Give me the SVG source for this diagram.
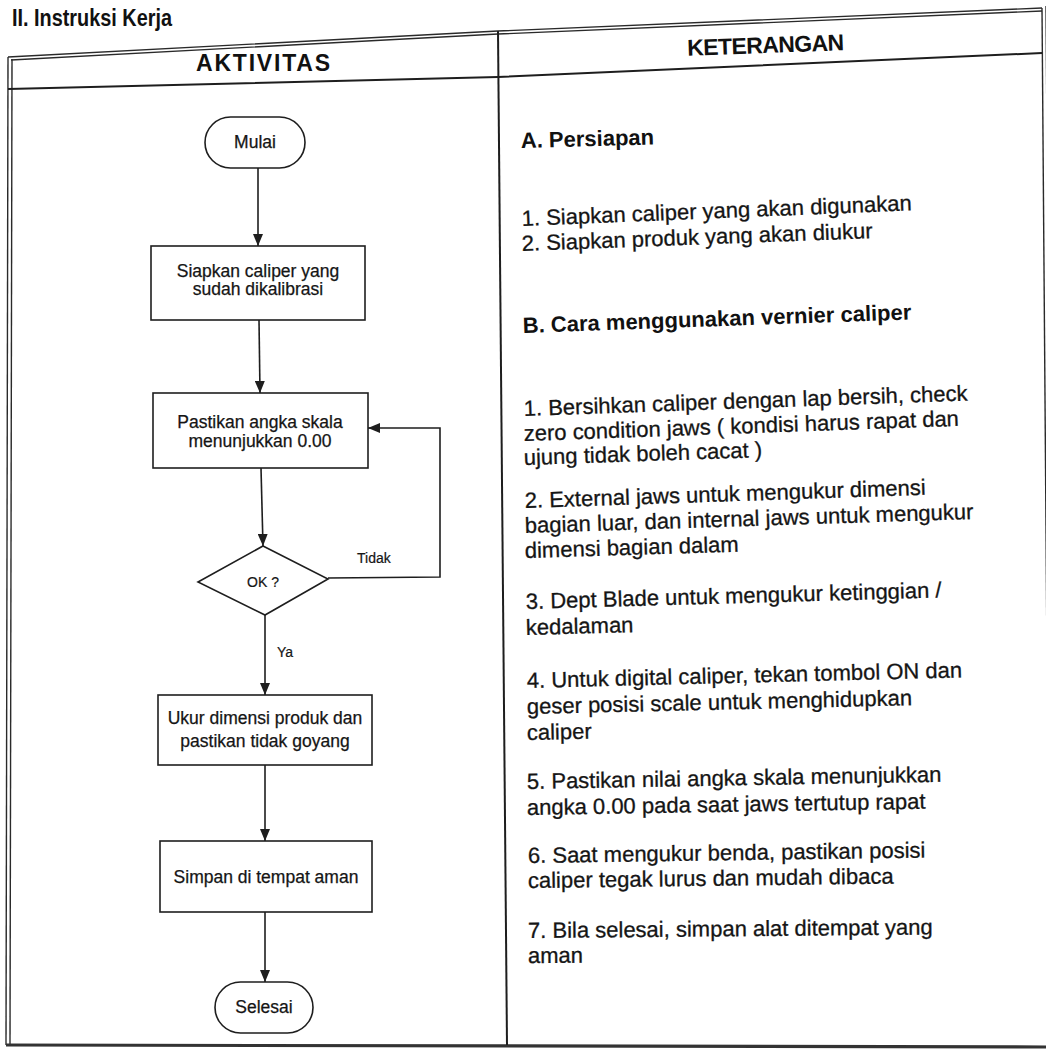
<svg xmlns="http://www.w3.org/2000/svg" width="1046" height="1052" viewBox="0 0 1046 1052">
  <defs>
    <style>
      .frame { fill: none; stroke: #2a2a2a; stroke-width: 1.4; }
      .rule { fill: none; stroke: #1e1e1e; stroke-width: 2; }
      .node { fill: #ffffff; stroke: #1e1e1e; stroke-width: 1.6; }
      .edge { fill: none; stroke: #1e1e1e; stroke-width: 1.6; marker-end: url(#arrow); }
      .label { font-family: "Liberation Sans", Arial, sans-serif; font-size: 17.5px; fill: #151515; stroke: #151515; stroke-width: 0.25; text-anchor: middle; }
      .small { font-family: "Liberation Sans", Arial, sans-serif; font-size: 14px; fill: #151515; stroke: #151515; stroke-width: 0.2; }
      .head { font-family: "Liberation Sans", Arial, sans-serif; font-size: 23px; font-weight: bold; fill: #111111; text-anchor: middle; }
      .title { font-family: "Liberation Sans", Arial, sans-serif; font-size: 23px; font-weight: bold; fill: #111111; }
      .note { font-family: "Liberation Sans", Arial, sans-serif; font-size: 22px; fill: #151515; stroke: #151515; stroke-width: 0.3; }
      .noteb { font-family: "Liberation Sans", Arial, sans-serif; font-size: 22px; font-weight: bold; fill: #111111; }
    </style>
    <marker id="arrow" viewBox="0 0 12 10" markerWidth="12" markerHeight="10" refX="12" refY="5" orient="auto" markerUnits="userSpaceOnUse">
      <path d="M0,0 L12,5 L0,10 z" fill="#1e1e1e"/>
    </marker>
  </defs>

  <rect x="0" y="0" width="1046" height="1052" fill="#ffffff"/>

  <!-- section title -->
  <text class="title" x="12" y="26" textLength="160" lengthAdjust="spacingAndGlyphs">II. Instruksi Kerja</text>

  <!-- table frame (double outer border) -->
  <g id="table">
    <polyline class="frame" points="8,57 498,31 1042,8"/>
    <polyline class="frame" points="11,60 498,34 1042,11"/>
    <line class="frame" x1="8" y1="57" x2="6" y2="1045"/>
    <line class="frame" x1="12" y1="59" x2="10" y2="1045"/>
    <line class="frame" x1="1042" y1="8" x2="1050" y2="1047"/>
    <line class="frame" x1="1046" y1="6" x2="1054" y2="1047"/>
    <line x1="6" y1="1045" x2="1046" y2="1047" stroke="#333333" stroke-width="3.2"/>
    <polyline class="rule" points="8,89 498,77 1042,53"/>
    <line class="rule" x1="498" y1="31" x2="507" y2="1045"/>
    <text class="head" x="263" y="71" textLength="134" lengthAdjust="spacing">AKTIVITAS</text>
    <text class="head" x="766" y="53" textLength="157" lengthAdjust="spacing" transform="rotate(-2 766 53)">KETERANGAN</text>
  </g>

  <!-- connectors -->
  <g id="connectors">
    <line class="edge" x1="258" y1="168" x2="258" y2="246"/>
    <line class="edge" x1="259" y1="320" x2="260" y2="393"/>
    <line class="edge" x1="261" y1="468" x2="263" y2="546"/>
    <polyline class="edge" points="328,578 440,577 440,428 368,428"/>
    <line class="edge" x1="265" y1="615" x2="265" y2="695"/>
    <line class="edge" x1="265" y1="765" x2="265" y2="841"/>
    <line class="edge" x1="265" y1="912" x2="265" y2="982"/>
    <text class="small" x="357" y="563">Tidak</text>
    <text class="small" x="277" y="657">Ya</text>
  </g>

  <!-- flowchart nodes -->
  <g id="mulai">
    <rect class="node" x="205" y="117" width="100" height="51" rx="25.5"/>
    <text class="label" x="255" y="148">Mulai</text>
  </g>
  <g id="siapkan">
    <rect class="node" x="151" y="246" width="214" height="74"/>
    <text class="label" x="258" y="277">Siapkan caliper yang</text>
    <text class="label" x="258" y="295">sudah dikalibrasi</text>
  </g>
  <g id="pastikan">
    <rect class="node" x="153" y="393" width="215" height="75"/>
    <text class="label" x="260" y="428">Pastikan angka skala</text>
    <text class="label" x="260" y="447">menunjukkan 0.00</text>
  </g>
  <g id="ok">
    <polygon class="node" points="263,546 328,579 265,615 198,582"/>
    <text class="small" x="263" y="587" text-anchor="middle">OK ?</text>
  </g>
  <g id="ukur">
    <rect class="node" x="158" y="695" width="214" height="70"/>
    <text class="label" x="265" y="724">Ukur dimensi produk dan</text>
    <text class="label" x="265" y="747">pastikan tidak goyang</text>
  </g>
  <g id="simpan">
    <rect class="node" x="160" y="841" width="212" height="71"/>
    <text class="label" x="266" y="883">Simpan di tempat aman</text>
  </g>
  <g id="selesai">
    <rect class="node" x="215" y="982" width="98" height="51" rx="25.5"/>
    <text class="label" x="264" y="1013">Selesai</text>
  </g>

  <!-- description column -->
  <g id="keterangan">
    <text class="noteb" x="521" y="148" transform="rotate(-1.5 521 148)">A. Persiapan</text>
    <text class="note" x="522" y="226" transform="rotate(-2.3 522 226)">1. Siapkan caliper yang akan digunakan</text>
    <text class="note" x="522" y="251" transform="rotate(-2.1 522 251)">2. Siapkan produk yang akan diukur</text>
    <text class="noteb" x="523" y="333" transform="rotate(-2 523 333)">B. Cara menggunakan vernier caliper</text>
    <text class="note" x="524" y="416" transform="rotate(-2 524 416)">1. Bersihkan caliper dengan lap bersih, check</text>
    <text class="note" x="524" y="441" transform="rotate(-2 524 441)">zero condition jaws ( kondisi harus rapat dan</text>
    <text class="note" x="524" y="465" transform="rotate(-1.9 524 465)">ujung tidak boleh cacat )</text>
    <text class="note" x="525" y="508" transform="rotate(-1.9 525 508)">2. External jaws untuk mengukur dimensi</text>
    <text class="note" x="525" y="533" transform="rotate(-1.8 525 533)">bagian luar, dan internal jaws untuk mengukur</text>
    <text class="note" x="525" y="558" transform="rotate(-1.7 525 558)">dimensi bagian dalam</text>
    <text class="note" x="526" y="609" transform="rotate(-1.6 526 609)">3. Dept Blade untuk mengukur ketinggian /</text>
    <text class="note" x="526" y="635" transform="rotate(-1.5 526 635)">kedalaman</text>
    <text class="note" x="527" y="688" transform="rotate(-1.4 527 688)">4. Untuk digital caliper, tekan tombol ON dan</text>
    <text class="note" x="527" y="714" transform="rotate(-1.3 527 714)">geser posisi scale untuk menghidupkan</text>
    <text class="note" x="527" y="740" transform="rotate(-1.2 527 740)">caliper</text>
    <text class="note" x="527" y="789" transform="rotate(-1 527 789)">5. Pastikan nilai angka skala menunjukkan</text>
    <text class="note" x="527" y="815" transform="rotate(-0.9 527 815)">angka 0.00 pada saat jaws tertutup rapat</text>
    <text class="note" x="528" y="863" transform="rotate(-0.8 528 863)">6. Saat mengukur benda, pastikan posisi</text>
    <text class="note" x="528" y="888" transform="rotate(-0.7 528 888)">caliper tegak lurus dan mudah dibaca</text>
    <text class="note" x="528" y="938" transform="rotate(-0.5 528 938)">7. Bila selesai, simpan alat ditempat yang</text>
    <text class="note" x="528" y="963" transform="rotate(-0.4 528 963)">aman</text>
  </g>
</svg>
